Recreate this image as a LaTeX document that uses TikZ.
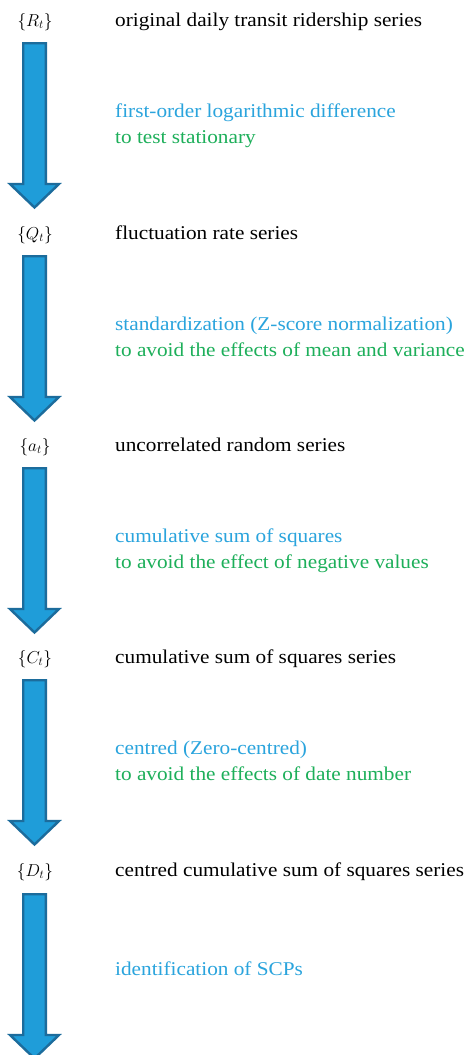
\documentclass[tikz,border=0pt]{standalone}
\usepackage{fontspec}
\setmainfont[FakeStretch=1.09]{Liberation Serif}
\definecolor{arrowfill}{HTML}{1F9DD9}
\definecolor{arrowline}{HTML}{1C6C9C}
\definecolor{stepblue}{HTML}{2AA4DD}
\definecolor{stepgreen}{HTML}{1DAF5A}
\begin{document}
\begin{tikzpicture}[x=1pt,y=-1pt,
  bigarrow/.style={fill=arrowfill,draw=arrowline,line width=2.4pt,line join=miter},
  serieslabel/.style={anchor=base,inner sep=0pt,font=\fontsize{17.5}{20}\selectfont},
  seriestext/.style={anchor=base west,inner sep=0pt,font=\fontsize{19.5}{22}\selectfont,text=black},
  opblue/.style={anchor=base west,inner sep=0pt,font=\fontsize{19.5}{22}\selectfont,text=stepblue},
  opgreen/.style={anchor=base west,inner sep=0pt,font=\fontsize{19.5}{22}\selectfont,text=stepgreen}]
\useasboundingbox (0,0) rectangle (466,1055);
\fill[white] (0,0) rectangle (466,1055);
% block arrows
\foreach \t/\n in {42/a1,255/a2,467/a3,679/a4,893/a5}{
  \draw[bigarrow] (23.2,\t+1.2) -- (45.8,\t+1.2) -- (45.8,\t+142) -- (59,\t+142)
     -- (34.5,\t+165.5) -- (10,\t+142) -- (23.2,\t+142) -- cycle;
}
% series labels
\node[serieslabel] (R) at (35,26) {$\{R_t\}$};
\node[seriestext] (Rt) at (115,26) {original daily transit ridership series};
\node[serieslabel] (Q) at (35,239) {$\{Q_t\}$};
\node[seriestext] (Qt) at (115,239) {fluctuation rate series};
\node[serieslabel] (A) at (35,451) {$\{a_t\}$};
\node[seriestext] (At) at (115,451) {uncorrelated random series};
\node[serieslabel] (C) at (35,663) {$\{C_t\}$};
\node[seriestext] (Ct) at (115,663) {cumulative sum of squares series};
\node[serieslabel] (D) at (35,876) {$\{D_t\}$};
\node[seriestext] (Dt) at (115,876) {centred cumulative sum of squares series};
% operations
\node[opblue] (o1) at (115,117) {first-order logarithmic difference};
\node[opgreen] (g1) at (115,143) {to test stationary};
\node[opblue] (o2) at (115,330) {standardization (Z-score normalization)};
\node[opgreen] (g2) at (115,356) {to avoid the effects of mean and variance};
\node[opblue] (o3) at (115,542) {cumulative sum of squares};
\node[opgreen] (g3) at (115,568) {to avoid the effect of negative values};
\node[opblue] (o4) at (115,754) {centred (Zero-centred)};
\node[opgreen] (g4) at (115,780) {to avoid the effects of date number};
\node[opblue] (o5) at (115,975) {identification of SCPs};
\end{tikzpicture}
\end{document}
